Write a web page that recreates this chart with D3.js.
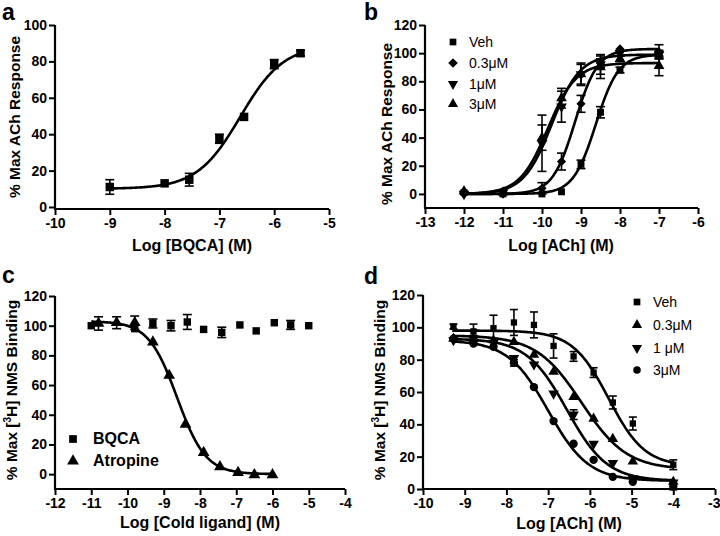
<!DOCTYPE html>
<html><head><meta charset="utf-8">
<script src="https://cdn.jsdelivr.net/npm/d3@7"></script>
<style>
html,body{margin:0;padding:0;background:#fff;}
svg{display:block;}
text{font-family:Arial,"Liberation Sans",Helvetica,sans-serif;}
</style></head>
<body>
<svg id="chart" width="720" height="536"></svg>
<script>
// ---------- DATA ----------
// Panel a
const aX = [-9, -8, -7.55, -7, -6.55, -6, -5.52];
const aY = [11, 13, 15, 37.5, 49.5, 78.5, 84.5];
const aErr = [4, 1, 3.5, 2.5, 1, 2.5, 1.5];
const aFit = [10, 89, -6.62, 1.1]; // bottom, top, logEC50, hill
const aXTicks = [-10, -9, -8, -7, -6, -5];
const aYTicks = [0, 20, 40, 60, 80, 100];

// Panel b
const bX = [-12, -11, -10, -9.5, -9, -8.5, -8, -7];
const bSeries = ["Veh", "0.3\u03bcM", "1\u03bcM", "3\u03bcM"];
const bVeh = [1, 0, 0, 1.5, 21, 58, 88, 99];
const bVehErr = [1, 1, 1, 1, 3, 4, 2, 2];
const b03 = [0, 0, 4, 23, 64, 93, 103, 101];
const b03Err = [1, 1, 4, 6, 6, 3, 1, 5];
const b1 = [0, 1, 36, 62, 85, 92, 100, 99];
const b1Err = [1, 1, 20, 11, 8, 7, 2, 3];
const b3 = [2, 1, 40, 68, 85, 90, 96, 91];
const b3Err = [1, 1, 9, 7, 7, 8, 2, 7];
const bFits = [[0, 99, -8.62, 1.5], [0, 103, -9.15, 1.5], [0, 99, -9.75, 1.2], [0, 93, -9.85, 1.2]];
const bXTicks = [-13, -12, -11, -10, -9, -8, -7, -6];
const bYTicks = [0, 20, 40, 60, 80, 100, 120];

// Panel c
const cSeries = ["BQCA", "Atropine"];
const cBqX = [-11, -9.8, -9.3, -8.8, -8.35, -7.9, -7.4, -6.9, -6.45, -5.95, -5.5, -5.0];
const cBqY = [100, 98, 101.5, 100, 102.5, 97.5, 95.5, 100.5, 96.5, 102, 100.5, 100];
const cBqErr = [1, 1, 3, 3.5, 5, 1, 3.5, 1, 1, 1, 3, 1];
const cAtX = [-10.8, -10.3, -9.8, -9.3, -8.85, -8.4, -7.9, -7.45, -6.95, -6.5, -6.0];
const cAtY = [101.5, 102, 102, 89, 66.5, 33.5, 14.5, 5, 1, -0.5, -0.5];
const cAtErr = [4.5, 4, 4.5, 1, 1, 1, 1, 1, 1, 1, 0.5];
const cAtFit = [103, 0, -8.63, 1.1]; // top, bottom, logIC50, hill (descending)
const cXTicks = [-12, -11, -10, -9, -8, -7, -6, -5, -4];
const cYTicks = [0, 20, 40, 60, 80, 100, 120];

// Panel d
const dX = [-9.27, -8.79, -8.31, -7.82, -7.34, -6.87, -6.39, -5.91, -5.45, -4.97, -4.0];
const dSeries = ["Veh", "0.3\u03bcM", "1 \u03bcM", "3\u03bcM"];
const dVeh = [100.5, 97.5, 99.5, 103, 101.5, 88.5, 82, 72, 53.5, 40.5, 15];
const dVehErr = [1.5, 4.5, 8, 8, 8, 7.5, 3, 3, 4, 4, 3];
const d03 = [93, 93, 92, 91, 83, 72.5, 57, 43.5, 31, 17, 4.5];
const d03Err = [1, 1, 1, 1, 1, 1, 1, 1, 1, 1, 1];
const d1 = [92, 93, 90.5, 81, 77, 59, 46, 28, 16, 6.5, 4];
const d1Err = [1, 2, 1, 1, 1, 1, 3, 1, 1, 1, 1];
const d3v = [93, 90, 88, 78, 63, 42, 28, 18, 7.5, 4.5, 1.5];
const d3Err = [1, 1, 1, 2, 1, 1, 1, 1, 1, 1, 2];
const dFits = [[98, 14, -5.55, 1], [95, 12, -6.2, 0.8], [93, 5, -6.55, 0.9], [92, 5, -7.0, 0.9]];
const dXTicks = [-10, -9, -8, -7, -6, -5, -4, -3];
const dYTicks = [0, 20, 40, 60, 80, 100, 120];

// ---------- DRAWING ----------
const svg = d3.select("#chart");
const FONT = 'Arial,"Liberation Sans",Helvetica,sans-serif';

function logistic(p, x, desc) {
  if (!desc) return p[0] + (p[1] - p[0]) / (1 + Math.pow(10, (p[2] - x) * p[3]));
  return p[1] + (p[0] - p[1]) / (1 + Math.pow(10, (x - p[2]) * p[3]));
}

function marker(type, size) {
  const map = {square: d3.symbolSquare, diamond: d3.symbolSquare, up: d3.symbolTriangle, down: d3.symbolTriangle, circle: d3.symbolCircle};
  return d3.symbol().type(map[type]).size(size)();
}
function rot(type) {
  return type === "down" ? " rotate(180)" : type === "diamond" ? " rotate(45)" : "";
}

function axes(g, x, y, xTicks, yTicks, xAxisY) {
  const gx = g.append("g").attr("transform", `translate(0,${xAxisY})`)
    .call(d3.axisBottom(x).tickValues(xTicks).tickSize(6).tickSizeOuter(0).tickPadding(3).tickFormat(d => String(d)));
  const gy = g.append("g").attr("transform", `translate(${x.range()[0]},0)`)
    .call(d3.axisLeft(y).tickValues(yTicks).tickSize(6).tickSizeOuter(0).tickPadding(2).tickFormat(d => String(d)));
  [gx, gy].forEach(a => {
    a.select(".domain").attr("stroke-width", 2.2).attr("stroke", "#000");
    a.selectAll(".tick line").attr("stroke-width", 2).attr("stroke", "#000");
    a.selectAll(".tick text").attr("font-family", FONT).attr("font-weight", "bold").attr("font-size", 14).attr("fill", "#000");
  });
  gx.select(".domain").attr("d", `M${x.range()[0] - 1},0H${x.range()[1]}`);
  gy.select(".domain").attr("d", `M0,${y.range()[1]}V${xAxisY}`);
  // keep a label that would spill past the right page edge inside it
  gx.selectAll(".tick").each(function (d) {
    if (x(d) + 10 > 720) d3.select(this).select("text").attr("text-anchor", "end").attr("x", 720 - x(d));
  });
}

function errorBars(g, x, y, xs, ys, es, cap) {
  xs.forEach((xv, i) => {
    const e = es[i];
    if (!e || e < 1.2) return;
    const px = x(xv), y1 = y(ys[i] - e), y2 = y(ys[i] + e);
    g.append("line").attr("x1", px).attr("x2", px).attr("y1", y1).attr("y2", y2).attr("stroke", "#000").attr("stroke-width", 1.6);
    g.append("line").attr("x1", px - cap).attr("x2", px + cap).attr("y1", y1).attr("y2", y1).attr("stroke", "#000").attr("stroke-width", 1.6);
    g.append("line").attr("x1", px - cap).attr("x2", px + cap).attr("y1", y2).attr("y2", y2).attr("stroke", "#000").attr("stroke-width", 1.6);
  });
}

function points(g, x, y, xs, ys, type, size) {
  xs.forEach((xv, i) => {
    g.append("path").attr("d", marker(type, size))
      .attr("transform", `translate(${x(xv)},${y(ys[i])})${rot(type)}`)
      .attr("fill", "#000");
  });
}

function curve(g, x, y, p, x0, x1, desc) {
  const xs = d3.range(0, 201).map(i => x0 + (x1 - x0) * i / 200);
  g.append("path").datum(xs)
    .attr("d", d3.line().x(d => x(d)).y(d => y(logistic(p, d, desc))))
    .attr("fill", "none").attr("stroke", "#000").attr("stroke-width", 2.6);
}

function letter(txt, px, py) {
  svg.append("text").attr("x", px).attr("y", py).text(txt)
    .attr("font-family", FONT).attr("font-weight", "bold").attr("font-size", 23);
}

function xTitle(txt, cx, py) {
  svg.append("text").attr("x", cx).attr("y", py).attr("text-anchor", "middle").text(txt)
    .attr("font-family", FONT).attr("font-weight", "bold").attr("font-size", 16);
}

function yTitle(parts, cx, cy) {
  const t = svg.append("text").attr("transform", `translate(${cx},${cy}) rotate(-90)`)
    .attr("text-anchor", "middle").attr("font-family", FONT).attr("font-weight", "bold").attr("font-size", 15.5);
  parts.forEach(pt => {
    const s = t.append("tspan").text(pt.t);
    if (pt.sup) s.attr("dy", -6).attr("font-size", 10);
    if (pt.after) s.attr("dy", 6);
  });
}

function legend(items, mx, tx, ys, size, bold, fsize) {
  items.forEach((it, i) => {
    svg.append("path").attr("d", marker(it.type, size))
      .attr("transform", `translate(${mx},${ys[i]})${rot(it.type)}`).attr("fill", "#000");
    svg.append("text").attr("x", tx).attr("y", ys[i] + 5).text(it.label)
      .attr("font-family", FONT).attr("font-size", fsize).attr("font-weight", bold ? "bold" : "normal");
  });
}

// ---- Panel a ----
{
  const x = d3.scaleLinear().domain([-10, -5]).range([55, 329]);
  const y = d3.scaleLinear().domain([-1.1, 100]).range([209, 25]);
  const g = svg.append("g");
  axes(g, x, y, aXTicks, aYTicks, 209);
  curve(g, x, y, aFit, -9, -5.52, false);
  errorBars(g, x, y, aX, aY, aErr, 4.5);
  points(g, x, y, aX, aY, "square", 72);
  letter("a", 2, 20);
  xTitle("Log [BQCA] (M)", 192, 251);
  yTitle([{t: "% Max ACh Response"}], 20, 117);
}

// ---- Panel b ----
{
  const x = d3.scaleLinear().domain([-13, -6]).range([425, 698]);
  const y = d3.scaleLinear().domain([-10, 120]).range([208, 25]);
  const g = svg.append("g");
  axes(g, x, y, bXTicks, bYTicks, 208);
  const ys = [bVeh, b03, b1, b3], es = [bVehErr, b03Err, b1Err, b3Err];
  const types = ["square", "diamond", "down", "up"];
  const sizes = [48, 42, 50, 50];
  bFits.forEach(p => curve(g, x, y, p, -12, -7, false));
  ys.forEach((s, i) => errorBars(g, x, y, bX, s, es[i], 4.5));
  ys.forEach((s, i) => points(g, x, y, bX, s, types[i], sizes[i]));
  letter("b", 364, 20);
  xTitle("Log [ACh] (M)", 561, 251);
  yTitle([{t: "% Max ACh Response"}], 392, 124);
  legend(bSeries.map((l, i) => ({label: l, type: types[i]})), 453, 469, [42, 63, 84, 104], 45, false, 14);
}

// ---- Panel c ----
{
  const x = d3.scaleLinear().domain([-12, -4]).range([55, 345]);
  const y = d3.scaleLinear().domain([-10, 120]).range([489, 296]);
  const g = svg.append("g");
  axes(g, x, y, cXTicks, cYTicks, 489);
  curve(g, x, y, cAtFit, -11, -6, true);
  errorBars(g, x, y, cBqX, cBqY, cBqErr, 4.5);
  errorBars(g, x, y, cAtX, cAtY, cAtErr, 4.5);
  points(g, x, y, cBqX, cBqY, "square", 55);
  points(g, x, y, cAtX, cAtY, "up", 60);
  letter("c", 2, 283);
  xTitle("Log [Cold ligand] (M)", 200, 528);
  yTitle([{t: "% Max ["}, {t: "3", sup: true}, {t: "H] NMS Binding", after: true}], 17, 390);
  legend([{label: cSeries[0], type: "square"}, {label: cSeries[1], type: "up"}], 73, 93, [439, 461], 60, true, 16);
}

// ---- Panel d ----
{
  const x = d3.scaleLinear().domain([-10, -3]).range([423, 715]);
  const y = d3.scaleLinear().domain([0, 120]).range([489, 295]);
  const g = svg.append("g");
  axes(g, x, y, dXTicks, dYTicks, 489);
  const ys = [dVeh, d03, d1, d3v], es = [dVehErr, d03Err, d1Err, d3Err];
  const types = ["square", "up", "down", "circle"];
  const sizes = [40, 48, 48, 55];
  dFits.forEach(p => curve(g, x, y, p, -9.3, -4, true));
  ys.forEach((s, i) => errorBars(g, x, y, dX, s, es[i], 4));
  ys.forEach((s, i) => points(g, x, y, dX, s, types[i], sizes[i]));
  letter("d", 364, 284);
  xTitle("Log [ACh] (M)", 569, 529);
  yTitle([{t: "% Max ["}, {t: "3", sup: true}, {t: "H] NMS Binding", after: true}], 385, 390);
  legend(dSeries.map((l, i) => ({label: l, type: types[i]})), 637, 653, [302, 325, 348, 370], 45, false, 14);
}
</script>
</body></html>
